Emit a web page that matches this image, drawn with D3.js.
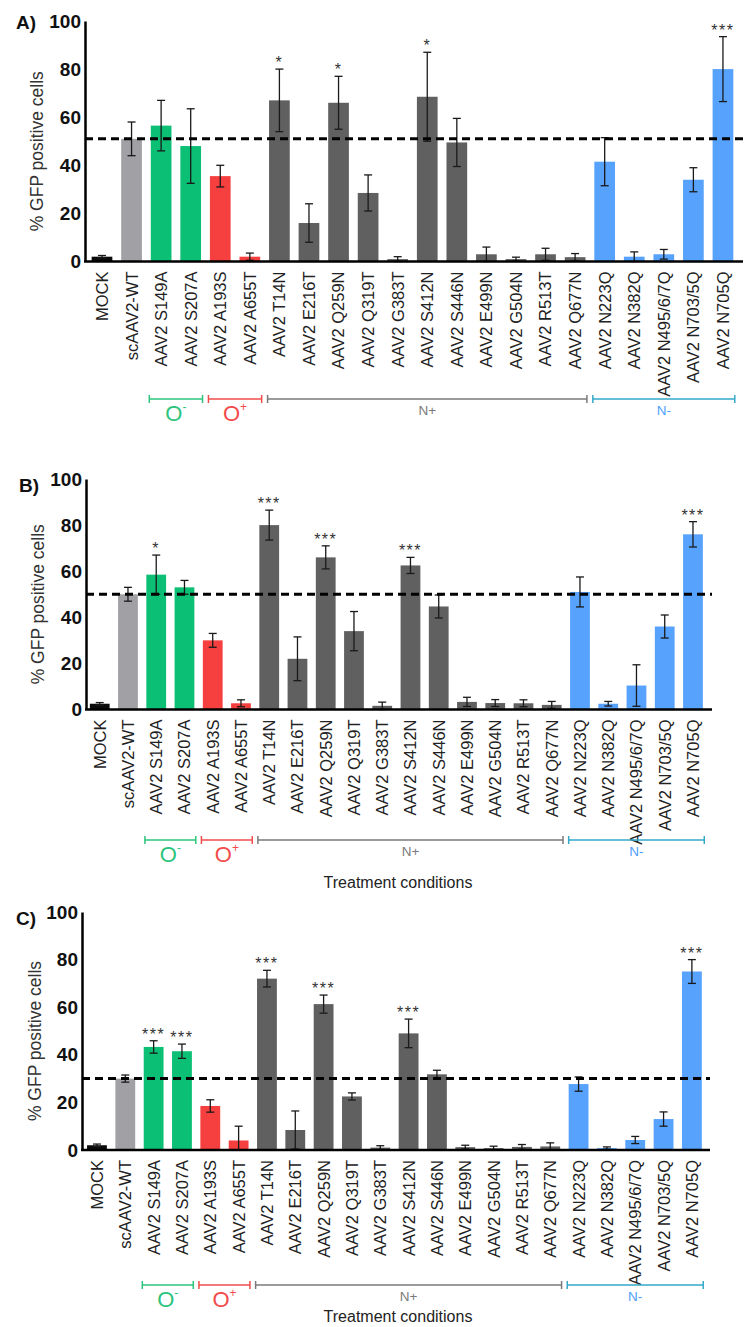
<!DOCTYPE html>
<html>
<head>
<meta charset="utf-8">
<script src="https://d3js.org/d3.v7.min.js"></script>
<style>
  body { margin: 0; background: #fff; }
  svg text { font-family: "Liberation Sans", Arial, sans-serif; }
</style>
</head>
<body>
<svg id="fig" width="744" height="1327"></svg>
<script>
// categories shared by all 3 panels
const categories = ["MOCK", "scAAV2-WT", "AAV2 S149A", "AAV2 S207A", "AAV2 A193S", "AAV2 A655T",
  "AAV2 T14N", "AAV2 E216T", "AAV2 Q259N", "AAV2 Q319T", "AAV2 G383T", "AAV2 S412N", "AAV2 S446N",
  "AAV2 E499N", "AAV2 G504N", "AAV2 R513T", "AAV2 Q677N", "AAV2 N223Q", "AAV2 N382Q",
  "AAV2 N495/6/7Q", "AAV2 N703/5Q", "AAV2 N705Q"];
const groupOf = ["mock", "wt", "o-", "o-", "o+", "o+", "n+", "n+", "n+", "n+", "n+", "n+", "n+",
  "n+", "n+", "n+", "n+", "n-", "n-", "n-", "n-", "n-"];
const yTicks = [0, 20, 40, 60, 80, 100];

// panel A
const valuesA = [2, 51, 56.5, 48, 35.5, 2, 67, 16, 66, 28.5, 1, 68.5, 49.5, 3, 1, 3, 1.8, 41.5, 2, 3, 34, 80];
const errorsA = [0.5, 7, 10.5, 15.5, 4.5, 1.5, 13, 8, 11, 7.5, 1, 18.5, 10, 3, 0.8, 2.5, 1.5, 10, 2, 2, 5, 13.5];
const starsA = ["", "", "", "", "", "", "*", "", "*", "", "", "*", "", "", "", "", "", "", "", "", "", "***"];
const refA = 51;

// panel B
const valuesB = [2.5, 50, 58.5, 53, 30, 2.7, 80, 22, 66, 34, 1.6, 62.5, 44.7, 3.3, 2.8, 2.7, 2, 51, 2.5, 10.4, 36, 76];
const errorsB = [0.5, 3, 8.5, 3, 3, 1.5, 6.5, 9.5, 5, 8.5, 1.6, 3.5, 5, 2, 1.5, 1.5, 1.5, 6.5, 1, 9, 5, 5.5];
const starsB = ["", "", "*", "", "", "", "***", "", "***", "", "", "***", "", "", "", "", "", "", "", "", "", "***"];
const refB = 50;

// panel C
const valuesC = [2, 30, 43.3, 41.5, 18.5, 4, 72, 8.4, 61.3, 22.5, 1, 49, 31.8, 1.2, 0.8, 1.3, 1.5, 27.7, 0.8, 4.2, 13, 75];
const errorsC = [0.5, 1.5, 2.6, 3, 2.6, 6, 3.5, 8, 3.8, 1.5, 0.8, 6, 1.7, 0.8, 0.8, 1, 1.5, 3, 0.5, 1.5, 3, 5];
const starsC = ["", "", "***", "***", "", "", "***", "", "***", "", "", "***", "", "", "", "", "", "", "", "", "", "***"];
const refC = 30;

const barColor = { "mock": "#0b0b0b", "wt": "#a1a1a5", "o-": "#0bbf74", "o+": "#f63f3f", "n+": "#606060", "n-": "#56a2fd" };

// bracket groups under the labels
const brackets = [
  { from: 2, to: 3, color: "#2cc47c", label: "O", sup: "-", big: true },
  { from: 4, to: 5, color: "#f24b4b", label: "O", sup: "+", big: true },
  { from: 6, to: 16, color: "#7a7a7a", label: "N+", sup: "", big: false },
  { from: 17, to: 21, color: "#33a9c9", label: "N-", sup: "", big: false, textColor: "#4f9ffc" }
];

const svg = d3.select("#fig");

function drawPanel(p) {
  const g = svg.append("g");
  const y = d3.scaleLinear().domain([0, 100]).range([p.y0, p.y100]);
  const x = d3.scaleBand().domain(categories)
    .range([p.x0, p.x0 + p.step * categories.length])
    .paddingInner(0.3).paddingOuter(0.15);

  // bars
  g.selectAll("rect.bar")
    .data(p.values)
    .enter()
    .append("rect")
      .attr("class", "bar")
      .attr("x", (d, i) => x(categories[i]))
      .attr("y", d => y(d))
      .attr("width", x.bandwidth())
      .attr("height", d => y(0) - y(d))
      .attr("fill", (d, i) => barColor[groupOf[i]]);

  // error bars
  const cx = i => x(categories[i]) + x.bandwidth() / 2;
  const eb = g.selectAll("g.err")
    .data(p.values)
    .enter()
    .append("g")
      .attr("class", "err")
      .attr("stroke", "#1a1a1a")
      .attr("stroke-width", 1.3);
  eb.append("line")
    .attr("x1", (d, i) => cx(i)).attr("x2", (d, i) => cx(i))
    .attr("y1", (d, i) => y(Math.max(0, d - p.errors[i])))
    .attr("y2", (d, i) => y(d + p.errors[i]));
  eb.append("line")
    .attr("x1", (d, i) => cx(i) - 4).attr("x2", (d, i) => cx(i) + 4)
    .attr("y1", (d, i) => y(d + p.errors[i])).attr("y2", (d, i) => y(d + p.errors[i]));
  eb.append("line")
    .attr("x1", (d, i) => cx(i) - 4).attr("x2", (d, i) => cx(i) + 4)
    .attr("y1", (d, i) => y(Math.max(0, d - p.errors[i]))).attr("y2", (d, i) => y(Math.max(0, d - p.errors[i])));

  // significance stars
  g.selectAll("text.star")
    .data(p.stars)
    .enter()
    .append("text")
      .attr("class", "star")
      .attr("x", (d, i) => cx(i))
      .attr("y", (d, i) => y(p.values[i] + p.errors[i]) - 1)
      .attr("text-anchor", "middle")
      .attr("font-size", 16)
      .attr("letter-spacing", 1.5)
      .attr("fill", "#333")
      .text(d => d);

  // dashed reference line
  g.append("line")
    .attr("x1", p.axisX).attr("x2", p.axisEnd)
    .attr("y1", y(p.ref)).attr("y2", y(p.ref))
    .attr("stroke", "#000").attr("stroke-width", 3)
    .attr("stroke-dasharray", "8 5");

  // y axis
  const ya = g.append("g")
    .attr("transform", `translate(${p.axisX},0)`)
    .call(d3.axisLeft(y).tickValues(yTicks).tickSize(0).tickPadding(4));
  ya.select(".domain").attr("stroke", "#000").attr("stroke-width", 2.5);
  ya.selectAll("text")
    .attr("font-size", 19).attr("font-weight", "bold").attr("fill", "#111")
    .attr("font-family", "Liberation Sans, Arial, sans-serif");

  // x axis line + labels
  g.append("line")
    .attr("x1", p.axisX - 1).attr("x2", p.axisEnd)
    .attr("y1", p.y0).attr("y2", p.y0)
    .attr("stroke", "#000").attr("stroke-width", 2.5);
  const xa = g.append("g")
    .attr("transform", `translate(0,${p.y0})`)
    .call(d3.axisBottom(x).tickSize(0));
  xa.select(".domain").remove();
  xa.selectAll("text")
    .attr("transform", "rotate(-90)")
    .attr("text-anchor", "end")
    .attr("x", -10).attr("y", 0).attr("dy", "0.36em")
    .attr("font-size", 16.5).attr("fill", "#222")
    .attr("font-family", "Liberation Sans, Arial, sans-serif");

  // y title
  g.append("text")
    .attr("transform", `translate(${p.titleX},${(p.y0 + p.y100) / 2 + 10}) rotate(-90)`)
    .attr("text-anchor", "middle")
    .attr("dy", "0.35em")
    .attr("font-size", 17.5).attr("fill", "#333")
    .text("% GFP positive cells");

  // panel letter
  g.append("text")
    .attr("x", p.letterX).attr("y", p.letterY)
    .attr("font-size", 19).attr("font-weight", "bold").attr("fill", "#111")
    .text(p.letter);

  // group brackets
  brackets.forEach(b => {
    const bx1 = cx(b.from) - p.step * 0.4;
    const bx2 = cx(b.to) + p.step * 0.4;
    const bg = g.append("g").attr("stroke", b.color).attr("stroke-width", 1.5);
    bg.append("line").attr("x1", bx1).attr("x2", bx2).attr("y1", p.brY).attr("y2", p.brY);
    bg.append("line").attr("x1", bx1).attr("x2", bx1).attr("y1", p.brY - 4).attr("y2", p.brY + 4);
    bg.append("line").attr("x1", bx2).attr("x2", bx2).attr("y1", p.brY - 4).attr("y2", p.brY + 4);
    const t = g.append("text")
      .attr("x", (bx1 + bx2) / 2)
      .attr("text-anchor", "middle")
      .attr("fill", b.textColor || b.color);
    if (b.big) {
      t.attr("y", p.brY + 22).attr("font-size", 22).text(b.label);
      t.append("tspan").attr("dy", -10).attr("font-size", 12).text(b.sup);
    } else {
      t.attr("y", p.brY + 16).attr("font-size", 13.5).text(b.label);
    }
  });

  if (p.xTitleY) {
    g.append("text")
      .attr("x", 398).attr("y", p.xTitleY)
      .attr("text-anchor", "middle")
      .attr("font-size", 16).attr("fill", "#222")
      .text("Treatment conditions");
  }
}

drawPanel({ letter: "A)", letterX: 16, letterY: 29, values: valuesA, errors: errorsA, stars: starsA, ref: refA,
  y0: 261.5, y100: 21, axisX: 85, axisEnd: 743, x0: 87.2, step: 29.57, titleX: 37, brY: 399, xTitleY: null });
drawPanel({ letter: "B)", letterX: 19, letterY: 492, values: valuesB, errors: errorsB, stars: starsB, ref: refB,
  y0: 709.5, y100: 479, axisX: 86, axisEnd: 712, x0: 85.6, step: 28.25, titleX: 38, brY: 840, xTitleY: 888 });
drawPanel({ letter: "C)", letterX: 16, letterY: 925, values: valuesC, errors: errorsC, stars: starsC, ref: refC,
  y0: 1150, y100: 912, axisX: 82, axisEnd: 710, x0: 82.8, step: 28.33, titleX: 35, brY: 1285, xTitleY: 1322 });
</script>
</body>
</html>
